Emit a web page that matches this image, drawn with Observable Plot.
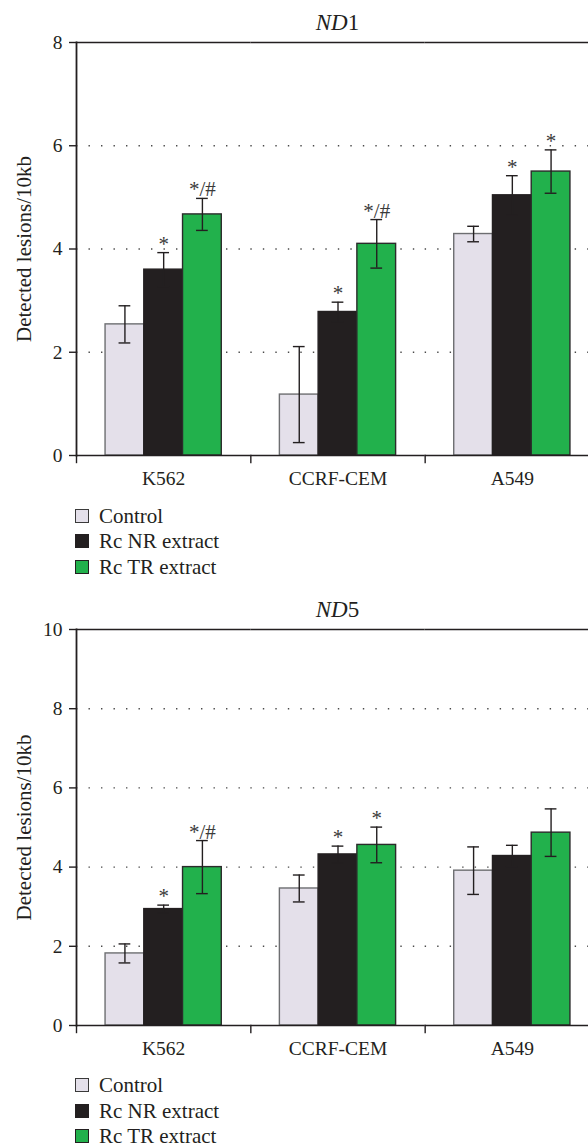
<!DOCTYPE html>
<html>
<head>
<meta charset="utf-8">
<script src="https://cdn.jsdelivr.net/npm/d3@7"></script>
<script src="https://cdn.jsdelivr.net/npm/@observablehq/plot@0.6"></script>
<style>
  html, body { margin: 0; padding: 0; background: #fff; }
  body { width: 588px; height: 1147px; overflow: hidden; font-family: "Liberation Serif", "Times New Roman", Times, "DejaVu Serif", serif; color: #231f20; }
  .title { box-sizing: border-box; margin-left: 76px; width: 523px; text-align: center; font-size: 23px; line-height: 20px; white-space: nowrap; }
  .chart { width: 588px; overflow: hidden; }
  .chart svg { display: block; }
  .legend { box-sizing: border-box; padding-left: 75px; padding-top: 8px; }
  .row { height: 25.5px; display: flex; align-items: center; font-size: 21px; }
  .row span { line-height: 18px; }
  .sw { box-sizing: border-box; width: 14px; height: 14px; border: 1.4px solid #231f20; margin-right: 10px; }
</style>
</head>
<body>
<div id="root"></div>
<script>
// ---- data ----
const cells = ["K562", "CCRF-CEM", "A549"];
const treatments = ["Control", "Rc NR extract", "Rc TR extract"];
const treatmentFill = ["#e4e0ea", "#231f20", "#22b14c"];
const treatmentStroke = ["#6d6e71", "#231f20", "#2b2b2b"];

// ND1: rows = cell lines, columns = treatments
const nd1Means  = [[2.54, 3.60, 4.67], [1.18, 2.78, 4.10], [4.29, 5.04, 5.50]];
const nd1Errors = [[0.36, 0.33, 0.31], [0.93, 0.19, 0.47], [0.15, 0.38, 0.42]];
const nd1Marks  = [["", "*", "*/#"], ["", "*", "*/#"], ["", "*", "*"]];
const nd1Ticks  = [0, 2, 4, 6, 8];
const nd1Grid   = [2, 4, 6];

// ND5
const nd5Means  = [[1.82, 2.94, 4.00], [3.46, 4.32, 4.56], [3.91, 4.28, 4.87]];
const nd5Errors = [[0.24, 0.10, 0.67], [0.34, 0.21, 0.45], [0.60, 0.27, 0.60]];
const nd5Marks  = [["", "*", "*/#"], ["", "*", "*"], ["", "", ""]];
const nd5Ticks  = [0, 2, 4, 6, 8, 10];
const nd5Grid   = [2, 4, 6, 8];

const yLabel = "Detected lesions/10kb";
const FONT = '"Liberation Serif", "Times New Roman", Times, "DejaVu Serif", serif';

function makeTitle(gene, num, padTop, h) {
  const d = document.createElement("div");
  d.className = "title";
  d.style.paddingTop = padTop + "px";
  d.style.height = h + "px";
  d.innerHTML = `<i>${gene}</i>${num}`;
  return d;
}

function makeLegend() {
  const d = document.createElement("div");
  d.className = "legend";
  treatments.forEach((t, j) => {
    const r = document.createElement("div");
    r.className = "row";
    const s = document.createElement("div");
    s.className = "sw";
    s.style.background = treatmentFill[j];
    s.style.borderColor = j === 0 ? "#3a3a3a" : "#231f20";
    r.appendChild(s);
    const tx = document.createElement("span");
    tx.textContent = t;
    r.appendChild(tx);
    d.appendChild(r);
  });
  return d;
}

function makeChart(means, errors, marks, ticks, grid, mTop, innerH, mBottom) {
  const rows = [];
  cells.forEach((c, i) => treatments.forEach((t, j) => rows.push({
    cell: c, treatment: t, mean: means[i][j], err: errors[i][j], mark: marks[i][j],
    fill: treatmentFill[j], stroke: treatmentStroke[j]
  })));
  const yMax = ticks[ticks.length - 1];
  const ink = "#231f20";
  return Plot.plot({
    width: 588,
    height: mTop + innerH + mBottom,
    marginLeft: 76,
    marginRight: 0,
    marginTop: mTop,
    marginBottom: mBottom,
    style: { fontFamily: FONT, fontSize: "19.5px", color: ink, background: "transparent" },
    fx: { domain: cells, range: [76, 599], padding: 0, round: false },
    x: { domain: treatments, paddingInner: 0, paddingOuter: 0.75, round: false, axis: null },
    y: { domain: [0, yMax], axis: null },
    marks: [
      Plot.gridY(grid, { stroke: "#4a4a4a", strokeOpacity: 1, strokeWidth: 1.4, strokeDasharray: "1.4,11.1" }),
      Plot.barY(rows, { fx: "cell", x: "treatment", y: "mean", fill: "fill", stroke: "stroke", strokeWidth: 1.4 }),
      Plot.ruleX(rows, { fx: "cell", x: "treatment", y1: d => d.mean - d.err, y2: d => d.mean + d.err, stroke: ink, strokeWidth: 1.4 }),
      Plot.tickY(rows, { fx: "cell", x: "treatment", y: d => d.mean - d.err, insetLeft: 13.5, insetRight: 13.5, stroke: ink, strokeWidth: 1.4 }),
      Plot.tickY(rows, { fx: "cell", x: "treatment", y: d => d.mean + d.err, insetLeft: 13.5, insetRight: 13.5, stroke: ink, strokeWidth: 1.4 }),
      Plot.text(rows, { fx: "cell", x: "treatment", y: d => d.mean + d.err, text: "mark", lineAnchor: "bottom", dy: -2, fontSize: 21, fill: "#3a3a3a" }),
      Plot.ruleY([0, yMax], { stroke: ink, strokeWidth: 1.7 }),
      Plot.frame({ anchor: "left", facetAnchor: "left", stroke: ink, strokeWidth: 1.8 }),
      Plot.frame({ anchor: "left", insetTop: innerH, insetBottom: -7, stroke: ink, strokeWidth: 1.4 }),
      Plot.axisY({ ticks, tickSize: 7, tickPadding: 7, tickFormat: d => String(d), stroke: ink, strokeWidth: 1.4,
        label: null, fontSize: 19.5 }),
      Plot.text([yLabel], { frameAnchor: "left", facetAnchor: "left", rotate: -90, textAnchor: "middle", dx: -52, fontSize: 21, fill: ink }),
      Plot.axisFx({ anchor: "bottom", tickSize: 0, tickPadding: 16, label: null, fontSize: 19.5 })
    ]
  });
}

const root = document.getElementById("root");
root.appendChild(makeTitle("ND", "1", 13, 28));
const c1 = document.createElement("div"); c1.className = "chart";
c1.appendChild(makeChart(nd1Means, nd1Errors, nd1Marks, nd1Ticks, nd1Grid, 14, 413, 40));
root.appendChild(c1);
root.appendChild(makeLegend());

root.appendChild(makeTitle("ND", "5", 20, 35));
const c2 = document.createElement("div"); c2.className = "chart";
c2.appendChild(makeChart(nd5Means, nd5Errors, nd5Marks, nd5Ticks, nd5Grid, 14, 396, 40));
root.appendChild(c2);
root.appendChild(makeLegend());
</script>
</body>
</html>
